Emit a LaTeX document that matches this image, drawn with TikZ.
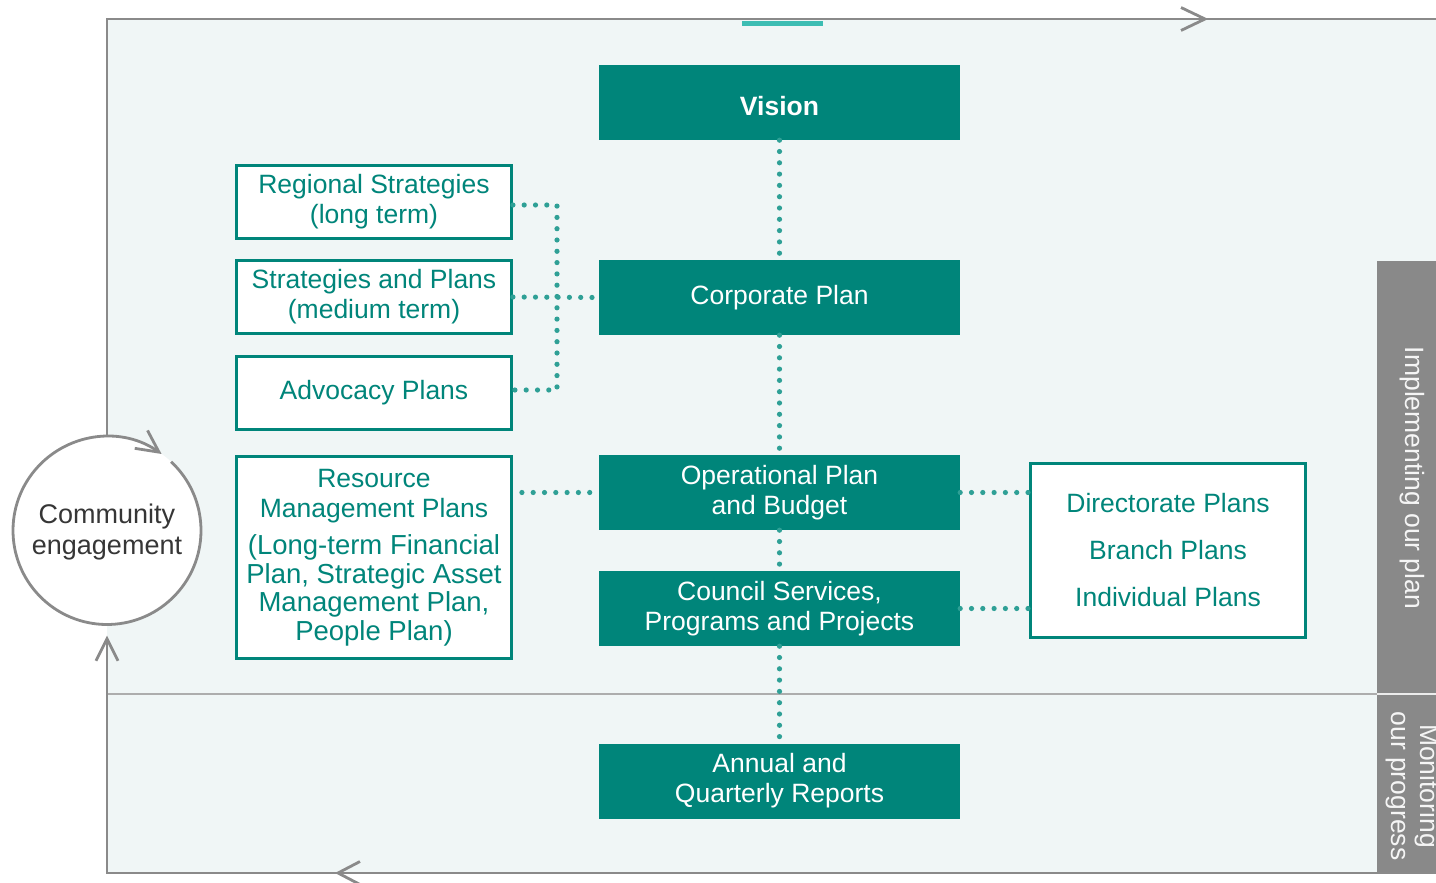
\documentclass[tikz,border=0pt]{standalone}
\usepackage{fontspec}
\setmainfont{Liberation Sans}
\usetikzlibrary{arrows.meta}
\definecolor{tealbox}{HTML}{00857A}
\definecolor{dotc}{HTML}{2FA096}
\definecolor{bgc}{HTML}{F0F6F6}
\definecolor{framec}{HTML}{8A8A8A}
\definecolor{midline}{HTML}{ADADAD}
\definecolor{bandc}{HTML}{898989}
\definecolor{bandtext}{HTML}{F5F5F5}
\definecolor{barc}{HTML}{3DBDB3}
\definecolor{darktext}{HTML}{363636}
\tikzset{
  solidbox/.style={fill=tealbox, text=white, minimum width=361pt, minimum height=75pt,
    inner sep=0pt, align=center, font=\fontsize{26.5}{30}\selectfont},
  outbox/.style={draw=tealbox, line width=2.8pt, fill=white, text=tealbox,
    minimum width=275pt, minimum height=73pt, inner sep=0pt, align=center,
    font=\fontsize{26.5}{30}\selectfont},
  dotline/.style={dotc, line width=5.2pt, line cap=round, dash pattern=on 0pt off 11.3pt},
  frameline/.style={framec, line width=2.8pt},
  chevron/.style={framec, line width=2.8pt, line join=miter},
  tipbarb/.style={-{Straight Barb[length=22pt,width=22pt]}},
  bandlabel/.style={rotate=-90, anchor=base, text=bandtext, font=\fontsize{26.5}{30}\selectfont},
}
\begin{document}
\begin{tikzpicture}[x=1pt,y=-1pt]
\useasboundingbox (0,0) rectangle (1436,883);
% background panel
\fill[bgc] (107,19) rectangle (1436,873);
% band on the right
\begin{scope}
  \clip (1377,261) rectangle (1436,873);
  \fill[bandc] (1377,261) rectangle (1436,873);
  \draw[white!85!gray, line width=1.5pt] (1377,694) -- (1436,694);
  \node[bandlabel] (impl) at (1405,478) {Implementing our plan};
  \node[bandlabel] (mon1) at (1420,786) {Monitoring};
  \node[bandlabel] (mon2) at (1391,786) {our progress};
\end{scope}
% middle divider
\draw[midline, line width=2.4pt] (107,694) -- (1377,694);
% teal accent bar
\fill[barc] (742,21) rectangle (823,26.5);

% community engagement circle
\node[circle, fill=white, minimum size=188pt, inner sep=0pt, align=center, text=darktext,
  font=\fontsize{27}{31}\selectfont] (ce) at (107,530.5) {\strut Community\\engagement\vphantom{A}};
\draw[frameline, tipbarb] ([shift={(-47:94)}]ce.center) arc[start angle=-47, end angle=305.5, radius=94];

% frame lines
\draw[frameline] (ce.north) -- (107,19) -- (1436,19);
\draw[chevron] (1181,7.5) -- (1205,19) -- (1181,30.5);
\draw[frameline, tipbarb, shorten >=11pt] (1436,873) -- (107,873) -- (ce.south);
\draw[chevron] (360,861.5) -- (338,873) -- (360,884.5);

% main column
\node[solidbox, font=\fontsize{26.5}{30}\selectfont\bfseries, text height=27pt, text depth=0pt] (vision) at (779.5,102.5) {Vision};
\node[solidbox] (corp) at (779.5,297.5) {Corporate Plan};
\node[solidbox] (oper) at (779.5,492.5) {Operational Plan\\and Budget};
\node[solidbox] (council) at (779.5,608.5) {Council Services,\\Programs and Projects};
\node[solidbox] (annual) at (779.5,781) {Annual and\\Quarterly Reports};

% left column
\node[outbox] (regional) at (374,202) {Regional Strategies\\(long term)};
\node[outbox] (strat) at (374,297) {Strategies and Plans\\(medium term)};
\node[outbox] (advoc) at (374,393) {Advocacy Plans};
\node[outbox, minimum height=202pt, font=\fontsize{26.5}{28.5}\selectfont] (resource) at (374,557.5)
  {Resource\\[1.5pt]Management Plans\\[8.5pt]{\fontsize{27.5}{28.5}\selectfont(Long-term Financial}\\
   {\fontsize{27.5}{28.5}\selectfont Plan, Strategic Asset}\\
   {\fontsize{27.5}{28.5}\selectfont Management Plan,}\\
   {\fontsize{27.5}{28.5}\selectfont People Plan)}};

% right box
\node[outbox, minimum height=174pt, font=\fontsize{26.5}{47}\selectfont] (direct) at (1168,550.5)
  {Directorate Plans\\Branch Plans\\Individual Plans};

% dotted connectors
\draw[dotline] (vision.south) -- (corp.north);
\draw[dotline] (corp.south) -- (oper.north);
\draw[dotline] (oper.south) -- (council.north);
\draw[dotline] (council.south) -- (annual.north);
\coordinate (jb) at (557,390);
\draw[dotline] ([yshift=-3pt]regional.east) -| (jb) -- ([yshift=3pt]advoc.east);
\draw[dotline] (strat.east) -- (corp.west);
\draw[dotline] ([xshift=9pt]oper.west -| resource.east) -- (oper.west);
\draw[dotline] (oper.east) -- (oper.east -| direct.west);
\draw[dotline] (council.east) -- (council.east -| direct.west);
\end{tikzpicture}
\end{document}
